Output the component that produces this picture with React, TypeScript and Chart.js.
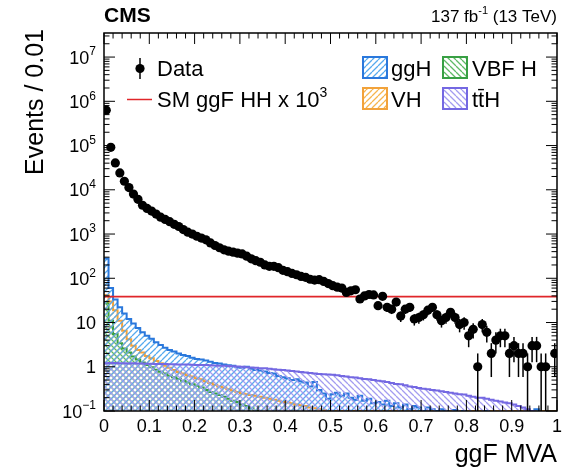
import React, { useEffect, useRef } from "react";
import { Chart, registerables } from "chart.js";

Chart.register(...registerables);

// ---------------- data ----------------
const binWidth = 0.01;
const nBins = 100;

// Observed events per bin (0 = empty bin)
const dataCounts = [
  630000, 91000, 40500, 24000, 15600, 11200, 8000, 6100, 4470, 3800,
  3310, 2820, 2400, 2140, 1900, 1660, 1480, 1260, 1100, 1000,
  890, 810, 740, 630, 550, 490, 440, 410, 390, 370,
  355, 316, 275, 250, 230, 200, 186, 186, 174, 151,
  141, 129, 120, 110, 105, 95, 91, 93, 85, 76,
  68, 63, 60, 48, 52, 55, 34, 40, 43, 42,
  24, 39, 22, 20, 29, 14, 20, 22, 12, 13,
  15, 19, 22, 15, 11, 13, 17, 13, 9, 10,
  5, 7, 1, 9, 6, 2, 4, 5, 5, 2,
  3, 2, 2, 1, 3, 3, 1, 1, 0, 2,
];

const ggH = [
  280, 60, 33, 22, 16, 12, 9.5, 7.5, 6, 5,
  4.3, 3.6, 3.1, 2.7, 2.4, 2.2, 2.0, 1.85, 1.75, 1.6,
  1.5, 1.45, 1.38, 1.3, 1.22, 1.18, 1.12, 1.08, 1.05, 0.98,
  0.95, 1.0, 0.9, 0.85, 0.82, 0.78, 0.72, 0.7, 0.62, 0.58,
  0.55, 0.5, 0.52, 0.47, 0.44, 0.36, 0.45, 0.3, 0.25, 0.19,
  0.24, 0.26, 0.22, 0.25, 0.2, 0.18, 0.22, 0.17, 0.19, 0.15,
  0.16, 0.14, 0.17, 0.13, 0.15, 0.12, 0.14, 0.11, 0.13, 0.12,
  0.1, 0.12, 0.11, 0.1, 0.11, 0.1, 0.09, 0.105, 0.09, 0.1,
  0.085, 0.095, 0.08, 0.09, 0.1, 0.08, 0.085, 0.07, 0.09, 0.075,
  0.08, 0.07, 0.085, 0.06, 0.07, 0.11, 0.06, 0.05, 0.04, 0.03,
];

const vbfH = [
  28, 11, 5.5, 3.4, 2.6, 2.1, 1.7, 1.45, 1.25, 1.1,
  0.97, 0.86, 0.77, 0.7, 0.63, 0.58, 0.53, 0.48, 0.44, 0.4,
  0.37, 0.34, 0.3, 0.27, 0.25, 0.23, 0.21, 0.19, 0.17, 0.16,
  0.14, 0.13, 0.115, 0.1, 0.09, 0.085, 0.08, 0.075, 0.07, 0.065,
  0.06, 0.056, 0.052, 0.048, 0.045, 0.042, 0.04, 0.037, 0.035, 0.033,
  0.031, 0.029, 0.027, 0.026, 0.024, 0.023, 0.022, 0.021, 0.02, 0.019,
  0.018, 0.017, 0.016, 0.016, 0.015, 0.014, 0.014, 0.013, 0.012, 0.012,
  0.011, 0.011, 0.01, 0.01, 0.01, 0.01, 0.01, 0.01, 0.01, 0.01,
  0.01, 0.01, 0.01, 0.01, 0.01, 0.01, 0.01, 0.01, 0.01, 0.01,
  0.01, 0.01, 0.01, 0.01, 0.01, 0.01, 0.01, 0.01, 0.01, 0.01,
];

const vh = [
  42, 30, 19, 11, 6.5, 4.2, 3.0, 2.4, 2.1, 1.75,
  1.55, 1.35, 1.2, 1.05, 0.95, 0.85, 0.76, 0.7, 0.64, 0.6,
  0.55, 0.52, 0.47, 0.43, 0.39, 0.36, 0.34, 0.31, 0.29, 0.27,
  0.25, 0.24, 0.23, 0.22, 0.21, 0.2, 0.19, 0.18, 0.17, 0.16,
  0.155, 0.15, 0.14, 0.135, 0.13, 0.12, 0.115, 0.11, 0.105, 0.1,
  0.1, 0.1, 0.1, 0.1, 0.1, 0.1, 0.1, 0.1, 0.1, 0.1,
  0.1, 0.1, 0.1, 0.1, 0.1, 0.1, 0.1, 0.1, 0.1, 0.1,
  0.1, 0.1, 0.1, 0.1, 0.1, 0.1, 0.1, 0.1, 0.1, 0.1,
  0.1, 0.1, 0.1, 0.1, 0.1, 0.1, 0.1, 0.1, 0.1, 0.1,
  0.1, 0.1, 0.1, 0.1, 0.1, 0.1, 0.1, 0.1, 0.1, 0.1,
];

const ttH = [
  1.2, 1.22, 1.21, 1.2, 1.2, 1.19, 1.2, 1.18, 1.18, 1.17,
  1.17, 1.16, 1.15, 1.15, 1.14, 1.14, 1.13, 1.12, 1.12, 1.11,
  1.1, 1.1, 1.09, 1.08, 1.07, 1.06, 1.05, 1.04, 1.03, 1.01,
  1.0, 0.98, 0.96, 0.95, 0.93, 0.92, 0.9, 0.88, 0.86, 0.84,
  0.82, 0.8, 0.78, 0.76, 0.74, 0.72, 0.7, 0.69, 0.68, 0.67,
  0.66, 0.64, 0.62, 0.6, 0.58, 0.57, 0.55, 0.53, 0.52, 0.5,
  0.48, 0.47, 0.45, 0.43, 0.41, 0.4, 0.38, 0.36, 0.35, 0.33,
  0.32, 0.31, 0.3, 0.29, 0.28, 0.27, 0.26, 0.25, 0.24, 0.235,
  0.22, 0.21, 0.2, 0.2, 0.19, 0.18, 0.17, 0.165, 0.155, 0.15,
  0.14, 0.13, 0.12, 0.11, 0.1, 0.09, 0.085, 0.08, 0.07, 0.06,
];

// SM ggF HH x 10^3 (flat level across the MVA range)
const smHHLevel = 38.5;

const xTickValues = [0, 0.1, 0.2, 0.3, 0.4, 0.5, 0.6, 0.7, 0.8, 0.9, 1];
const xTickLabels = ["0", "0.1", "0.2", "0.3", "0.4", "0.5", "0.6", "0.7", "0.8", "0.9", "1"];
const yTickValues = [0.1, 1, 10, 1e2, 1e3, 1e4, 1e5, 1e6, 1e7];
const yTickBases = ["10", "1", "10", "10", "10", "10", "10", "10", "10"];
const yTickExps = ["\u22121", "", "", "2", "3", "4", "5", "6", "7"];

const X_MIN = 0;
const X_MAX = 1;
const Y_MIN = 0.1;
const Y_MAX = 3.5e7;

const FONT = '"Liberation Sans", Arial, Helvetica, sans-serif';

const COLORS = {
  ggH: { line: "#2a78dc", hatch: "#56aaee" },
  vbf: { line: "#38a044", hatch: "#5fba66" },
  vh: { line: "#f2a23a", hatch: "#f6b54e" },
  tth: { line: "#7468e2", hatch: "#a39cf0" },
  sm: "#e0262a",
};

function histPoints(vals: number[]) {
  const pts = vals.map((v, i) => ({ x: i * binWidth, y: v }));
  pts.push({ x: nBins * binWidth, y: vals[vals.length - 1] });
  return pts;
}

function makeHatch(color: string, dir: "/" | "\\", size = 6, lw = 1.3) {
  const c = document.createElement("canvas");
  c.width = size;
  c.height = size;
  const g = c.getContext("2d")!;
  g.strokeStyle = color;
  g.lineWidth = lw;
  g.beginPath();
  for (let k = -1; k <= 1; k++) {
    if (dir === "/") {
      g.moveTo(k * size, size);
      g.lineTo(k * size + size, 0);
    } else {
      g.moveTo(k * size, 0);
      g.lineTo(k * size + size, size);
    }
  }
  g.stroke();
  return g.createPattern(c, "repeat")!;
}

type Part = { t: string; sup?: boolean };
function drawParts(
  ctx: CanvasRenderingContext2D,
  parts: Part[],
  x: number,
  y: number,
  size: number,
  supSize: number,
  align: "left" | "right" | "center",
  bold = false
) {
  const w = parts.map((p) => {
    ctx.font = `${bold ? "bold " : ""}${p.sup ? supSize : size}px ${FONT}`;
    return ctx.measureText(p.t).width;
  });
  const total = w.reduce((a, b) => a + b, 0);
  let cx = align === "left" ? x : align === "right" ? x - total : x - total / 2;
  ctx.textAlign = "left";
  ctx.textBaseline = "alphabetic";
  parts.forEach((p, i) => {
    ctx.font = `${bold ? "bold " : ""}${p.sup ? supSize : size}px ${FONT}`;
    ctx.fillText(p.t, cx, p.sup ? y - size * 0.45 : y);
    cx += w[i];
  });
}

export default function App() {
  const ref = useRef<HTMLCanvasElement | null>(null);

  useEffect(() => {
    if (!ref.current) return;
    const pat = {
      ggH: makeHatch(COLORS.ggH.hatch, "/"),
      vbf: makeHatch(COLORS.vbf.hatch, "\\"),
      vh: makeHatch(COLORS.vh.hatch, "/"),
      tth: makeHatch(COLORS.tth.hatch, "\\"),
    };

    const dataPoints = dataCounts.map((n, i) => ({
      x: (i + 0.5) * binWidth,
      y: n > 0 ? n : null,
    }));

    const errorBars = {
      id: "errorBars",
      afterDatasetsDraw(chart: any) {
        const { ctx, chartArea: ca } = chart;
        const xs = chart.scales.x;
        const ys = chart.scales.y;
        ctx.save();
        ctx.beginPath();
        ctx.rect(ca.left, ca.top, ca.right - ca.left, ca.bottom - ca.top);
        ctx.clip();
        ctx.strokeStyle = "#000";
        ctx.lineWidth = 1.5;
        dataCounts.forEach((n, i) => {
          if (n <= 0) return;
          const e = Math.sqrt(n);
          const px = xs.getPixelForValue((i + 0.5) * binWidth);
          const lo = n - e;
          const pyLo = lo > 0 ? ys.getPixelForValue(lo) : ca.bottom;
          const pyHi = ys.getPixelForValue(n + e);
          ctx.beginPath();
          ctx.moveTo(px, Math.min(pyLo, ca.bottom));
          ctx.lineTo(px, pyHi);
          ctx.stroke();
        });
        ctx.restore();
      },
    };

    const decorations = {
      id: "decorations",
      afterDraw(chart: any) {
        const { ctx, chartArea: ca } = chart;
        const xs = chart.scales.x;
        const ys = chart.scales.y;
        ctx.save();
        ctx.fillStyle = "#000";
        ctx.strokeStyle = "#000";

        // frame
        ctx.lineWidth = 1.5;
        ctx.strokeRect(ca.left, ca.top, ca.right - ca.left, ca.bottom - ca.top);

        // x ticks (inward, bottom and top)
        ctx.lineWidth = 1;
        const majLen = 11;
        const minLen = 5.5;
        ctx.beginPath();
        for (let k = 0; k <= 50; k++) {
          const v = k * 0.02;
          const px = xs.getPixelForValue(v);
          const major = xTickValues.some((t) => Math.abs(t - v) < 1e-9);
          const len = major ? majLen : minLen;
          ctx.moveTo(px, ca.bottom);
          ctx.lineTo(px, ca.bottom - len);
          ctx.moveTo(px, ca.top);
          ctx.lineTo(px, ca.top + len);
        }
        // y ticks (log)
        for (let d = -1; d <= 7; d++) {
          for (let m = 1; m <= 9; m++) {
            const v = m * Math.pow(10, d);
            if (v < Y_MIN || v > Y_MAX) continue;
            const py = ys.getPixelForValue(v);
            const len = m === 1 ? majLen : minLen;
            ctx.moveTo(ca.left, py);
            ctx.lineTo(ca.left + len, py);
            ctx.moveTo(ca.right, py);
            ctx.lineTo(ca.right - len, py);
          }
        }
        ctx.stroke();

        // x tick labels
        ctx.font = `18px ${FONT}`;
        ctx.textAlign = "center";
        ctx.textBaseline = "alphabetic";
        xTickValues.forEach((v, i) => {
          ctx.fillText(xTickLabels[i], xs.getPixelForValue(v), ca.bottom + 21);
        });

        // y tick labels
        yTickValues.forEach((v, i) => {
          const py = ys.getPixelForValue(v);
          const parts: Part[] = [{ t: yTickBases[i] }];
          if (yTickExps[i]) parts.push({ t: yTickExps[i], sup: true });
          drawParts(ctx, parts, ca.left - 8, py + 6.5, 18, 12, "right");
        });

        // axis titles
        ctx.font = `25px ${FONT}`;
        ctx.textAlign = "right";
        ctx.textBaseline = "alphabetic";
        ctx.fillText("ggF MVA", ca.right, ca.bottom + 51);
        ctx.save();
        ctx.translate(43, ca.top - 4);
        ctx.rotate(-Math.PI / 2);
        ctx.textAlign = "right";
        ctx.fillText("Events / 0.01", 0, 0);
        ctx.restore();

        // header
        drawParts(ctx, [{ t: "CMS" }], ca.left, 22, 21, 14, "left", true);
        drawParts(
          ctx,
          [{ t: "137 fb" }, { t: "-1", sup: true }, { t: " (13 TeV)" }],
          ca.right,
          22,
          17,
          11,
          "right"
        );

        // legend
        const lf = 22;
        // Data
        ctx.beginPath();
        ctx.lineWidth = 1.5;
        ctx.moveTo(140, 58);
        ctx.lineTo(140, 79);
        ctx.stroke();
        ctx.beginPath();
        ctx.arc(140, 68.5, 4.6, 0, Math.PI * 2);
        ctx.fill();
        drawParts(ctx, [{ t: "Data" }], 157, 76, lf, 14, "left");
        // SM HH
        ctx.strokeStyle = COLORS.sm;
        ctx.lineWidth = 1.5;
        ctx.beginPath();
        ctx.moveTo(127, 99.5);
        ctx.lineTo(152, 99.5);
        ctx.stroke();
        ctx.fillStyle = "#000";
        drawParts(
          ctx,
          [{ t: "SM ggF HH x 10" }, { t: "3", sup: true }],
          157,
          107,
          lf,
          14,
          "left"
        );
        const box = (x: number, y: number, p: CanvasPattern, c: string) => {
          ctx.fillStyle = "#fff";
          ctx.fillRect(x, y, 24, 21);
          ctx.fillStyle = p;
          ctx.fillRect(x, y, 24, 21);
          ctx.strokeStyle = c;
          ctx.lineWidth = 2;
          ctx.strokeRect(x, y, 24, 21);
          ctx.fillStyle = "#000";
        };
        box(363, 57, pat.ggH, COLORS.ggH.line);
        drawParts(ctx, [{ t: "ggH" }], 391, 76, lf, 14, "left");
        box(443, 57, pat.vbf, COLORS.vbf.line);
        drawParts(ctx, [{ t: "VBF H" }], 472, 76, lf, 14, "left");
        box(363, 88, pat.vh, COLORS.vh.line);
        drawParts(ctx, [{ t: "VH" }], 391, 107, lf, 14, "left");
        box(443, 88, pat.tth, COLORS.tth.line);
        drawParts(ctx, [{ t: "tt\u0304H" }], 472, 107, lf, 14, "left");

        ctx.restore();
      },
    };

    const histDs = (label: string, vals: number[], line: string, p: CanvasPattern, order: number) => ({
      type: "line" as const,
      label,
      data: histPoints(vals),
      stepped: "before" as const,
      borderColor: line,
      borderWidth: 2,
      backgroundColor: p,
      fill: "start",
      pointRadius: 0,
      order,
    });

    const chart = new Chart(ref.current, {
      type: "line",
      data: {
        datasets: [
          {
            label: "Data",
            data: dataPoints as any,
            showLine: false,
            pointRadius: 4.6,
            pointBackgroundColor: "#000",
            pointBorderWidth: 0,
            borderColor: "#000",
            order: 0,
          } as any,
          {
            label: "SM ggF HH x 10^3",
            data: [
              { x: X_MIN, y: smHHLevel },
              { x: X_MAX, y: smHHLevel },
            ],
            borderColor: COLORS.sm,
            borderWidth: 1.8,
            pointRadius: 0,
            fill: false,
            order: 1,
          } as any,
          histDs("ttH", ttH, COLORS.tth.line, pat.tth, 2) as any,
          histDs("ggH", ggH, COLORS.ggH.line, pat.ggH, 3) as any,
          histDs("VH", vh, COLORS.vh.line, pat.vh, 4) as any,
          histDs("VBF H", vbfH, COLORS.vbf.line, pat.vbf, 5) as any,
        ],
      },
      options: {
        animation: false,
        responsive: true,
        maintainAspectRatio: false,
        events: [],
        layout: { padding: { left: 104, right: 17, top: 33, bottom: 60 } },
        plugins: { legend: { display: false }, tooltip: { enabled: false } },
        scales: {
          x: {
            type: "linear",
            min: X_MIN,
            max: X_MAX,
            ticks: { display: false },
            grid: { display: false, drawTicks: false },
            border: { display: false },
          },
          y: {
            type: "logarithmic",
            min: Y_MIN,
            max: Y_MAX,
            ticks: { display: false },
            grid: { display: false, drawTicks: false },
            border: { display: false },
          },
        },
      },
      plugins: [errorBars, decorations],
    });
    return () => chart.destroy();
  }, []);

  return (
    <div style={{ position: "fixed", left: 0, top: 0, width: 574, height: 471, background: "#fff" }}>
      <canvas ref={ref} />
    </div>
  );
}
